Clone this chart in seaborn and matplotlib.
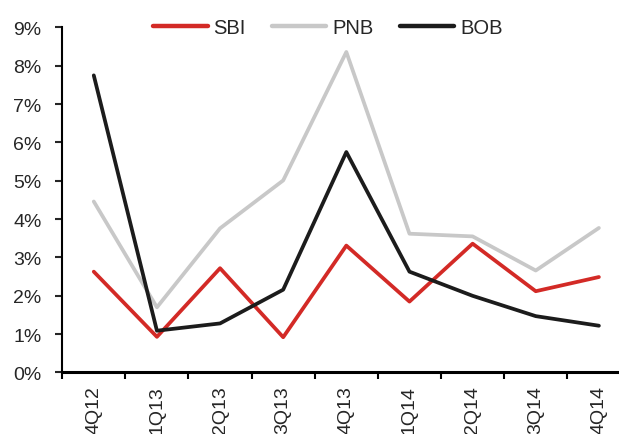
import matplotlib
matplotlib.use("Agg")
import matplotlib.pyplot as plt
from matplotlib.ticker import FixedLocator, FuncFormatter
import seaborn as sns
import pandas as pd

quarters = ["4Q12", "1Q13", "2Q13", "3Q13", "4Q13", "1Q14", "2Q14", "3Q14", "4Q14"]
sbi = [2.63, 0.93, 2.72, 0.92, 3.31, 1.85, 3.36, 2.12, 2.49]
pnb = [4.46, 1.70, 3.76, 5.01, 8.36, 3.62, 3.55, 2.66, 3.77]
bob = [7.75, 1.09, 1.28, 2.16, 5.75, 2.63, 2.00, 1.47, 1.22]
banks = ["SBI", "PNB", "BOB"]
colors = {"SBI": "#d32a26", "PNB": "#c8c8c8", "BOB": "#1c1c1c"}

df = pd.DataFrame({
    "pos": list(range(len(quarters))) * 3,
    "value": sbi + pnb + bob,
    "bank": [b for b in banks for _ in quarters],
})

sns.set_style("ticks")
plt.rcParams["font.family"] = ["Liberation Sans", "DejaVu Sans"]
plt.rcParams["font.size"] = 14

fig = plt.figure(figsize=(6.19, 4.35), dpi=100)
ax = fig.add_axes([0.1005, 0.1414, 0.918, 0.7932])

sns.lineplot(data=df, x="pos", y="value", hue="bank", hue_order=banks,
             palette=colors, linewidth=2.7, ax=ax, legend=True)

ax.set_xlim(-0.5, len(quarters) - 0.5)
ax.set_ylim(0, 9)
ax.set_xlabel("")
ax.set_ylabel("")

# category boundaries carry the tick marks, labels sit at category centres
ax.xaxis.set_major_locator(FixedLocator([i - 0.5 for i in range(len(quarters) + 1)]))
ax.xaxis.set_major_formatter(FuncFormatter(lambda v, p: ""))
ax.set_xticks(range(len(quarters)), minor=True)
ax.set_xticklabels(quarters, minor=True, rotation=90, fontsize=14)
ax.tick_params(axis="x", which="minor", length=0, pad=9)
ax.tick_params(axis="x", which="major", length=5, width=1.5, direction="out", color="black")

ax.set_yticks(range(0, 10))
ax.yaxis.set_major_formatter(FuncFormatter(lambda v, p: f"{v:.0f}%"))
ax.tick_params(axis="y", length=5, width=1.5, direction="out", labelsize=14, pad=10)

for side in ["top", "right"]:
    ax.spines[side].set_visible(False)
ax.spines["left"].set_linewidth(1.5)
ax.spines["bottom"].set_linewidth(2.2)
for side in ["left", "bottom"]:
    ax.spines[side].set_color("black")

leg = ax.legend(loc="center", bbox_to_anchor=(328 / 619, 1 - 29 / 435),
                bbox_transform=fig.transFigure, ncol=3, frameon=False,
                handlelength=2.7, handletextpad=0.3, columnspacing=1.3,
                fontsize=14.5)
for line in leg.get_lines():
    line.set_linewidth(3.2)

fig.savefig("out.png", dpi=100)
